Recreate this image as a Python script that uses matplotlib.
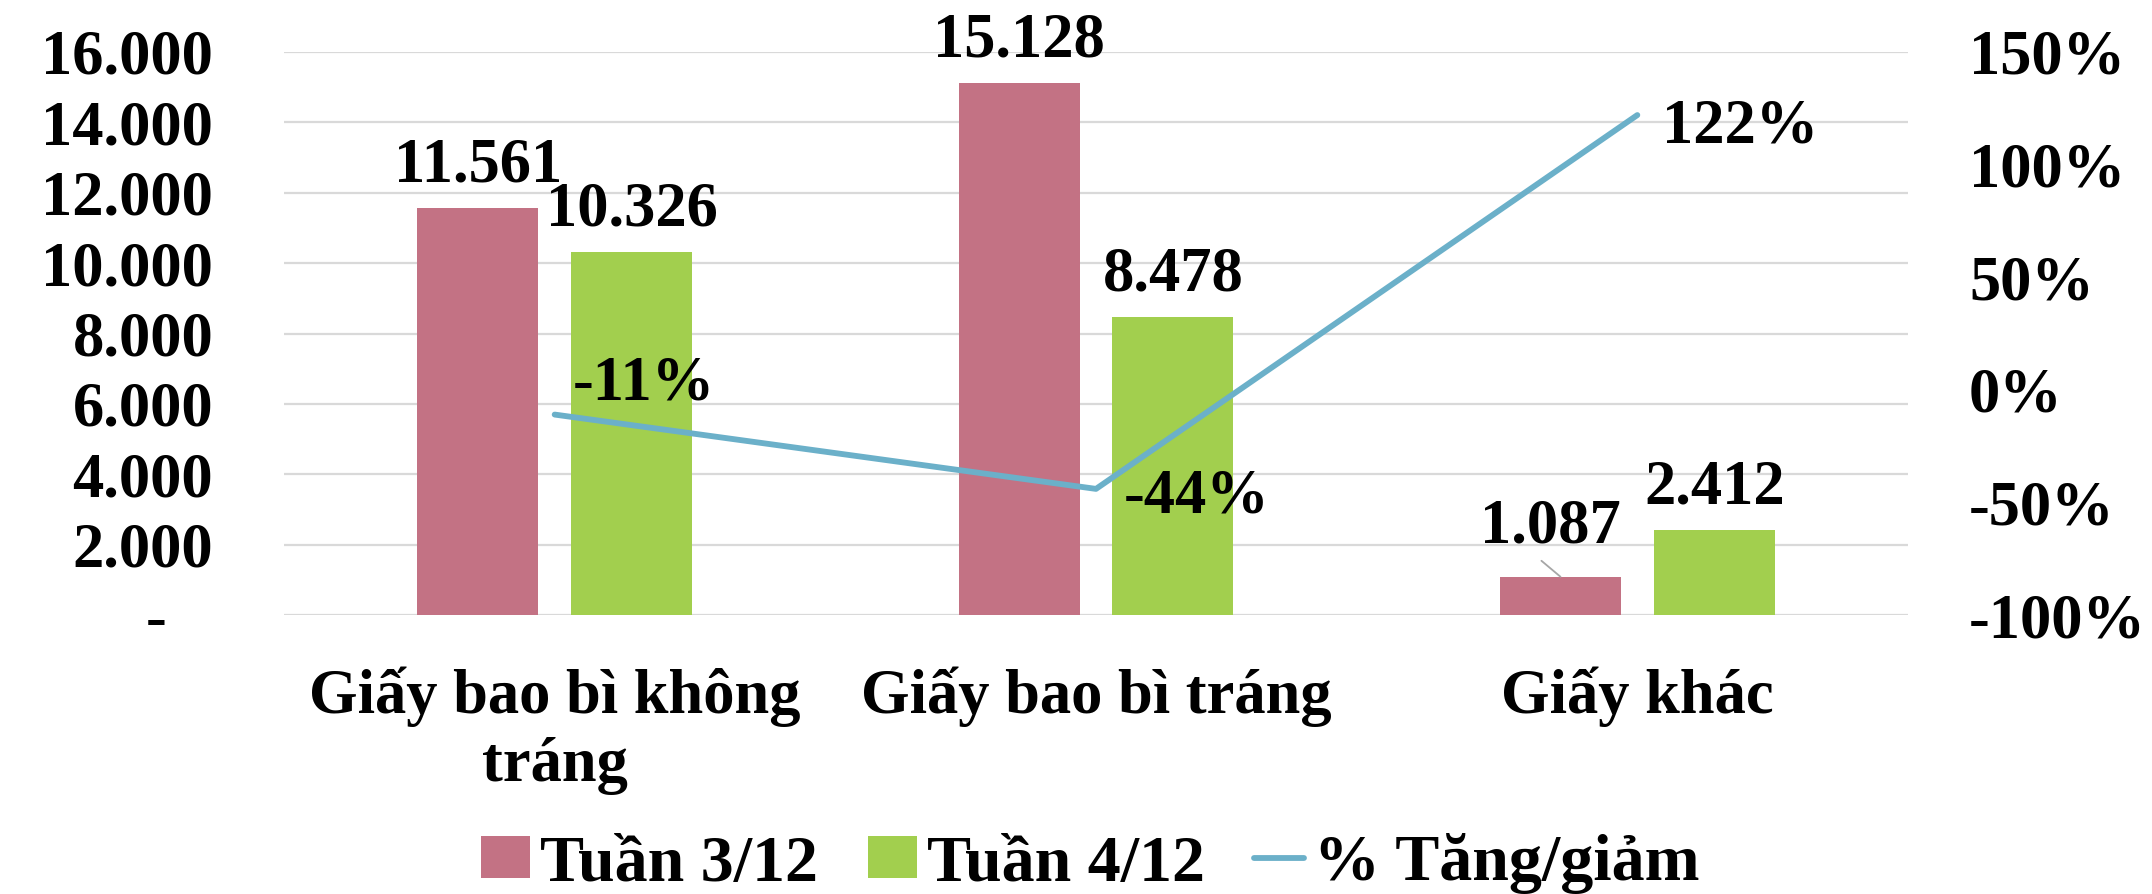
import matplotlib
matplotlib.use("Agg")
import matplotlib.pyplot as plt

categories = ["Giấy bao bì không\ntráng", "Giấy bao bì tráng", "Giấy khác"]
week3 = [11561, 15128, 1087]
week4 = [10326, 8478, 2412]
pct_change = [-11, -44, 122]
series_names = ["Tuần 3/12", "Tuần 4/12", "% Tăng/giảm"]
left_ticks = [0, 2000, 4000, 6000, 8000, 10000, 12000, 14000, 16000]
right_ticks = [-100, -50, 0, 50, 100, 150]

PINK = "#C37284"
GREEN = "#A2CF4E"
BLUE = "#6BB0C9"
FS = 45

plt.rcParams['font.family'] = ['Liberation Serif', 'DejaVu Serif']
plt.rcParams['font.weight'] = 'bold'

fig = plt.figure(figsize=(21.52, 8.94), dpi=100)
ax = fig.add_axes([284/2152, 1-615/894, (1908-284)/2152, (615-52)/894])

def fmt(v):
    return f"{v:,}".replace(",", ".")

x = list(range(len(categories)))
bw = 0.224
off = 0.142
b1 = ax.bar([i - off for i in x], week3, bw, color=PINK, label=series_names[0], zorder=2)
b2 = ax.bar([i + off for i in x], week4, bw, color=GREEN, label=series_names[1], zorder=2)

ax.set_xlim(-0.5, 2.5)
ax.set_ylim(0, 16000)
ax.set_yticks(left_ticks)
ax.set_yticklabels([fmt(t) if t else "-   " for t in left_ticks], fontsize=FS, fontweight='bold')
ax.set_xticks(x)
ax.set_xticklabels(categories, fontsize=FS, fontweight='bold', linespacing=1.24)
ax.tick_params(axis='y', length=0, pad=51)
ax.tick_params(axis='x', length=0, pad=37)
ax.grid(axis='y', color='#D9D9D9', linewidth=1.6, zorder=0)
ax.set_axisbelow(True)
for s in ax.spines.values():
    s.set_visible(False)

for i, v in enumerate(week3):
    if i == 2:
        ax.annotate(fmt(v), xy=(i - off, v), xytext=(-7, 24.5), textcoords='offset points',
                    ha='center', va='baseline', fontsize=FS, fontweight='bold')
        ax.annotate('', xy=(i - off, v), xytext=(-13.7, 11.5), textcoords='offset points',
                    arrowprops=dict(arrowstyle='-', color='#A6A6A6', lw=1.3, shrinkA=0, shrinkB=0))
    else:
        ax.annotate(fmt(v), xy=(i - off, v), xytext=(0, 19), textcoords='offset points',
                    ha='center', va='baseline', fontsize=FS, fontweight='bold')
for i, v in enumerate(week4):
    ax.annotate(fmt(v), xy=(i + off, v), xytext=(0, 19), textcoords='offset points',
                ha='center', va='baseline', fontsize=FS, fontweight='bold')

ax2 = ax.twinx()
ax2.set_ylim(-100, 150)
ax2.set_yticks(right_ticks)
ax2.set_yticklabels([f"{t}%" for t in right_ticks], fontsize=FS, fontweight='bold')
ax2.tick_params(axis='y', length=0, pad=44)
for s in ax2.spines.values():
    s.set_visible(False)
line, = ax2.plot(x, pct_change, color=BLUE, linewidth=4.2, label=series_names[2], solid_capstyle='round')

pct_offsets = [(13, 11), (20, -17), (18, -20)]
for i, v in enumerate(pct_change):
    ax2.annotate(f"{v}%", xy=(i, v), xytext=pct_offsets[i], textcoords='offset points',
                 ha='left', va='baseline', fontsize=FS, fontweight='bold')

fig.legend(handles=[b1, b2, line], labels=series_names, loc='center',
           bbox_to_anchor=(1090/2152, 1-864/894), ncol=3, frameon=False,
           fontsize=47.5, handlelength=0.75, handleheight=0.6, handletextpad=0.15,
           columnspacing=0.75, borderpad=0)

fig.savefig("out.png", dpi=100)
